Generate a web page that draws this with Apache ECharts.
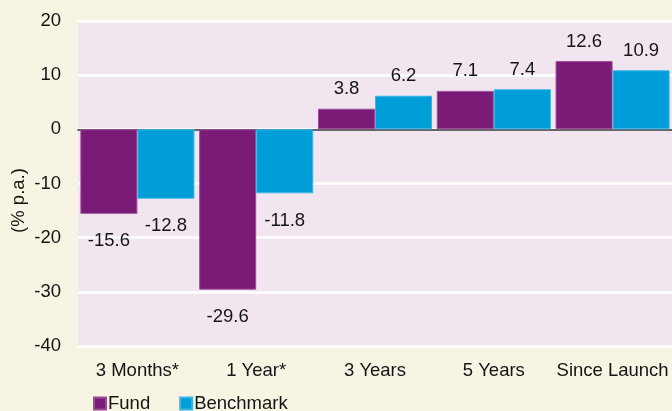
<!DOCTYPE html>
<html>
<head>
<meta charset="utf-8">
<script src="https://cdn.jsdelivr.net/npm/echarts@6/dist/echarts.min.js"></script>
<style>html,body{margin:0;padding:0;background:#f8f4e3;}#c{width:672px;height:411px;}</style>
</head>
<body>
<div id="c"></div>
<script>
const categories = ['3 Months*', '1 Year*', '3 Years', '5 Years', 'Since Launch'];
const fund = [-15.6, -29.6, 3.8, 7.1, 12.6];
const benchmark = [-12.8, -11.8, 6.2, 7.4, 10.9];
const yTicks = { min: -40, max: 20, interval: 10 };

const FONT = '"Liberation Sans", Arial, Helvetica, sans-serif';
const FS = 18.5;
const TXT = '#141414';
function labelled(vals) {
  return vals.map(v => ({ value: v, label: v >= 0 ? { position: 'top', distance: 10 } : { position: 'bottom', distance: 18 } }));
}
const chart = echarts.init(document.getElementById('c'), null, { renderer: 'canvas' });
chart.setOption({
  backgroundColor: '#f8f4e3',
  animation: false,
  grid: { left: 78, right: 0, top: 21, bottom: 65, show: true, backgroundColor: '#f1e6f0', borderWidth: 0, containLabel: false, outerBoundsMode: 'none' },
  legend: {
    left: 93, top: 394, padding: 0, itemWidth: 12, itemHeight: 12, itemGap: 29,
    icon: 'rect',
    textStyle: { fontFamily: FONT, fontSize: FS, color: TXT, padding: [0, 0, 0, -3] },
    data: ['Fund', 'Benchmark']
  },
  xAxis: {
    type: 'category', data: categories,
    axisLine: { onZero: true, lineStyle: { color: '#333', width: 1.5 } },
    axisTick: { show: false },
    axisLabel: { interval: 0, fontFamily: FONT, fontSize: FS, color: TXT, margin: 15 }
  },
  yAxis: {
    type: 'value', min: yTicks.min, max: yTicks.max, interval: yTicks.interval,
    name: '(% p.a.)', nameLocation: 'middle', nameGap: 50, nameRotate: 90, nameMoveOverlap: false,
    nameTextStyle: { fontFamily: FONT, fontSize: FS, color: TXT, padding: [0, 34, 0, 0] },
    axisLine: { show: false }, axisTick: { show: false },
    axisLabel: { fontFamily: FONT, fontSize: FS, color: TXT, margin: 17 },
    splitLine: { lineStyle: { color: '#ffffff', width: 2.5 } }
  },
  series: [
    {
      name: 'Fund', type: 'bar', data: labelled(fund), barGap: '0%', barCategoryGap: '4%',
      itemStyle: { color: '#7a1b77', borderColor: '#9b4d98', borderWidth: 1 },
      label: { show: true, fontFamily: FONT, fontSize: FS, color: TXT }
    },
    {
      name: 'Benchmark', type: 'bar', data: labelled(benchmark),
      itemStyle: { color: '#009ed9', borderColor: '#3ab4e4', borderWidth: 1 },
      label: { show: true, fontFamily: FONT, fontSize: FS, color: TXT }
    }
  ]
});
</script>
</body>
</html>
